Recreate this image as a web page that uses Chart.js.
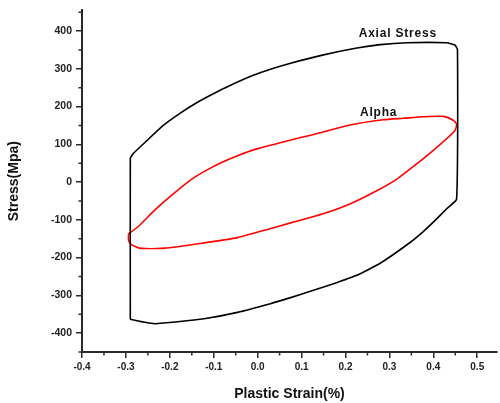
<!DOCTYPE html>
<html>
<head>
<meta charset="utf-8">
<script src="https://cdn.jsdelivr.net/npm/chart.js@4/dist/chart.umd.min.js"></script>
<style>
  html, body { margin: 0; padding: 0; background: #fff; }
  #wrap { width: 500px; height: 403px; position: relative; }
</style>
</head>
<body>
<div id="wrap"><canvas id="c" width="500" height="403"></canvas></div>
<script>
// ---- Data ----
const axialX = [-0.29, -0.283, -0.253, -0.215, -0.177, -0.139, -0.101, -0.063, -0.010, 0.029, 0.075, 0.15, 0.226, 0.279, 0.339, 0.43, 0.449, 0.455,
                0.453, 0.431, 0.40, 0.377, 0.347, 0.279, 0.226, 0.166, 0.113, 0.075, 0.029, -0.046, -0.122, -0.182, -0.235, -0.254, -0.288, -0.29, -0.29];
const axialY = [64, 76, 109, 150, 182, 210, 234, 256, 283, 299, 315, 337, 355, 364, 369, 369, 363, 351,
                -45, -70, -106, -131, -160, -215, -247, -272, -292, -306, -322, -345, -362, -370, -375, -372, -364, -361, 64];

const alphaX = [-0.294, -0.273, -0.235, -0.197, -0.150, -0.114, -0.086, -0.046, -0.002, 0.058, 0.098, 0.134, 0.21, 0.286, 0.332, 0.377, 0.423, 0.446, 0.453,
                0.449, 0.408, 0.362, 0.317, 0.271, 0.21, 0.149, 0.081, 0.020, -0.046, -0.122, -0.212, -0.269, -0.288, -0.294, -0.294];
const alphaY = [-137, -119, -75, -36, 8, 33, 50, 70, 88, 106, 118, 128, 151, 165, 169, 173, 174, 163, 153,
                136, 92, 48, 8, -23, -58, -84, -106, -126, -147, -161, -175, -175, -165, -154, -137];

const xTicks = [-0.4, -0.3, -0.2, -0.1, 0.0, 0.1, 0.2, 0.3, 0.4, 0.5];
const xTickLabels = ['-0.4', '-0.3', '-0.2', '-0.1', '0.0', '0.1', '0.2', '0.3', '0.4', '0.5'];
const yTicks = [-400, -300, -200, -100, 0, 100, 200, 300, 400];
const yTickLabels = ['-400', '-300', '-200', '-100', '0', '100', '200', '300', '400'];

const seriesNames = ['Axial Stress', 'Alpha'];
const xTitle = 'Plastic Strain(%)';
const yTitle = 'Stress(Mpa)';

// ---- Build datasets ----
const toPoints = (xs, ys) => xs.map((x, i) => ({ x: x, y: ys[i] }));

const AXIS_COLOR = '#2a2a2a';

const minorTicks = {
  id: 'minorTicks',
  afterDraw(chart) {
    const ctx = chart.ctx;
    const xs = chart.scales.x, ys = chart.scales.y;
    ctx.save();
    ctx.strokeStyle = AXIS_COLOR;
    ctx.lineWidth = 1.5;
    ctx.beginPath();
    for (let i = 0; i < xTicks.length - 1; i++) {
      const px = xs.getPixelForValue((xTicks[i] + xTicks[i + 1]) / 2);
      ctx.moveTo(px, ys.bottom);
      ctx.lineTo(px, ys.bottom + 3.5);
    }
    const ym = [yTicks[0] - 50].concat(yTicks.map(v => v + 50));
    for (const v of ym) {
      const py = ys.getPixelForValue(v);
      if (py < ys.top - 0.5 || py > ys.bottom + 0.5) continue;
      ctx.moveTo(xs.left, py);
      ctx.lineTo(xs.left - 3.5, py);
    }
    ctx.stroke();
    ctx.restore();
  }
};

const labelsPlugin = {
  id: 'seriesLabels',
  afterDatasetsDraw(chart) {
    const ctx = chart.ctx;
    const xs = chart.scales.x, ys = chart.scales.y;
    ctx.save();
    ctx.fillStyle = '#111';
    ctx.font = 'bold 12px "Liberation Sans", Arial, sans-serif';
    ctx.textBaseline = 'middle';
    ctx.textAlign = 'left';
    try { ctx.letterSpacing = '0.8px'; } catch (e) {}
    ctx.fillText(seriesNames[0], xs.getPixelForValue(0.23), ys.getPixelForValue(392));
    ctx.fillText(seriesNames[1], xs.getPixelForValue(0.233), ys.getPixelForValue(183));
    ctx.restore();
  }
};

new Chart(document.getElementById('c'), {
  type: 'scatter',
  data: {
    datasets: [
      {
        label: seriesNames[0],
        data: toPoints(axialX, axialY),
        showLine: true,
        borderColor: '#000000',
        borderWidth: 1.6,
        pointRadius: 0,
        tension: 0.15,
        fill: false
      },
      {
        label: seriesNames[1],
        data: toPoints(alphaX, alphaY),
        showLine: true,
        borderColor: '#ff0000',
        borderWidth: 1.6,
        pointRadius: 0,
        tension: 0.2,
        fill: false
      }
    ]
  },
  options: {
    responsive: false,
    animation: false,
    devicePixelRatio: 1,
    layout: { padding: { top: 9, right: 3, left: 0, bottom: 0 } },
    plugins: {
      legend: { display: false },
      tooltip: { enabled: false }
    },
    scales: {
      x: {
        type: 'linear',
        min: -0.4,
        max: 0.545,
        afterBuildTicks: (s) => { s.ticks = xTicks.map(v => ({ value: v })); },
        afterFit: (s) => { s.height = 51; },
        ticks: {
          autoSkip: false,
          maxRotation: 0,
          padding: 3,
          color: '#222',
          font: { family: '"Liberation Sans", Arial, sans-serif', size: 10, weight: 'bold' },
          callback: (v) => { const i = xTicks.findIndex(t => Math.abs(t - v) < 1e-9); return i >= 0 ? xTickLabels[i] : ''; }
        },
        grid: { drawOnChartArea: false, drawTicks: true, tickLength: 6, color: AXIS_COLOR, lineWidth: 1.5 },
        border: { display: true, color: AXIS_COLOR, width: 2 },
        title: {
          display: true,
          text: xTitle,
          color: '#111',
          font: { family: '"Liberation Sans", Arial, sans-serif', size: 14, weight: 'bold' },
          padding: { top: 8, bottom: 0 }
        }
      },
      y: {
        type: 'linear',
        min: -450,
        max: 455,
        afterBuildTicks: (s) => { s.ticks = yTicks.map(v => ({ value: v })); },
        afterFit: (s) => { s.width = 82; },
        ticks: {
          autoSkip: false,
          padding: 4,
          color: '#222',
          font: { family: '"Liberation Sans", Arial, sans-serif', size: 10.5, weight: 'bold' },
          callback: (v) => { const i = yTicks.indexOf(v); return i >= 0 ? yTickLabels[i] : ''; }
        },
        grid: { drawOnChartArea: false, drawTicks: true, tickLength: 6, color: AXIS_COLOR, lineWidth: 1.5 },
        border: { display: true, color: AXIS_COLOR, width: 2 },
        title: {
          display: true,
          text: yTitle,
          color: '#111',
          font: { family: '"Liberation Sans", Arial, sans-serif', size: 14, weight: 'bold' },
          padding: { top: 6, bottom: 4 }
        }
      }
    }
  },
  plugins: [minorTicks, labelsPlugin]
});
</script>
</body>
</html>
